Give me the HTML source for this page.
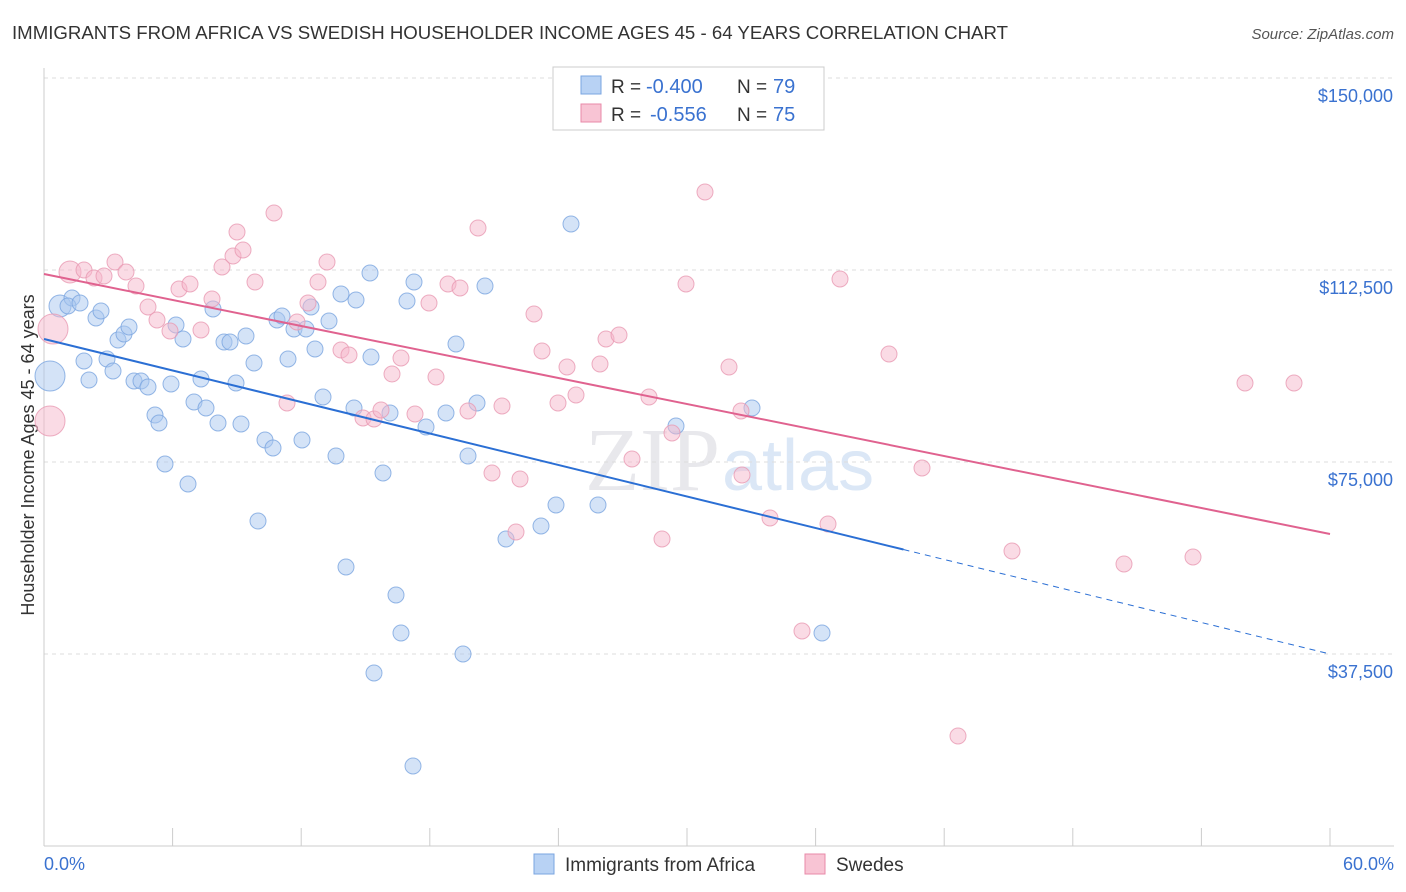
<!DOCTYPE html>
<html><head><meta charset="utf-8"><style>
body{margin:0;background:#fff;font-family:"Liberation Sans",sans-serif}
#c{position:relative;width:1406px;height:892px;overflow:hidden}
</style></head><body>
<div id="c">
<svg id="s" width="1406" height="892" xmlns="http://www.w3.org/2000/svg">
<text x="12" y="39" font-size="18" fill="#333" textLength="996" lengthAdjust="spacingAndGlyphs">IMMIGRANTS FROM AFRICA VS SWEDISH HOUSEHOLDER INCOME AGES 45 - 64 YEARS CORRELATION CHART</text>
<text x="1394" y="39" font-size="15" fill="#555" font-style="italic" text-anchor="end">Source: ZipAtlas.com</text>
<text x="720" y="490" font-size="90" fill="#e8e8ec" font-family="Liberation Serif" text-anchor="end">ZIP</text>
<text x="722" y="490" font-size="72" fill="#dbe7f6">atlas</text>
<text transform="translate(34,455) rotate(-90)" font-size="18" fill="#333" text-anchor="middle">Householder Income Ages 45 - 64 years</text>
<text x="44" y="870" font-size="18" fill="#3a72d0">0.0%</text>
<text x="1394" y="870" font-size="18" fill="#3a72d0" text-anchor="end">60.0%</text>
<g id="grid"></g><g id="pts"></g><g id="lines"></g>
<g>
<rect x="553" y="67" width="271" height="63" fill="#fff" stroke="#ccc"/>
<rect x="581" y="76" width="20" height="18" fill="#b8d2f4" stroke="#7aa5e0"/>
<rect x="581" y="104" width="20" height="18" fill="#f8c4d4" stroke="#e88aa8"/>
<text x="611" y="93" font-size="19" fill="#333">R =</text>
<text x="646" y="93" font-size="20" fill="#3a72d0">-0.400</text>
<text x="737" y="93" font-size="19" fill="#333">N =</text>
<text x="773" y="93" font-size="20" fill="#3a72d0">79</text>
<text x="611" y="121" font-size="19" fill="#333">R =</text>
<text x="650" y="121" font-size="20" fill="#3a72d0">-0.556</text>
<text x="737" y="121" font-size="19" fill="#333">N =</text>
<text x="773" y="121" font-size="20" fill="#3a72d0">75</text>
</g>
<g>
<rect x="534" y="854" width="20" height="20" fill="#b8d2f4" stroke="#7aa5e0"/>
<text x="565" y="871" font-size="19" fill="#333">Immigrants from Africa</text>
<rect x="805" y="854" width="20" height="20" fill="#f8c4d4" stroke="#e88aa8"/>
<text x="836" y="871" font-size="19" fill="#333">Swedes</text>
</g>
</svg></div>
<script>
const yTicks=[37500,75000,112500,150000];
const yTickLabels=["$37,500","$75,000","$112,500","$150,000"];
const bluePx=[[50,376,15],[60,306,11],[72,298],[68,306],[80,303],[84,361],[89,380],[96,318],[101,311],[107,359],[113,371],[118,340],[124,334],[129,327],[134,381],[141,381],[148,387],[155,415],[159,423],[165,464],[171,384],[176,325],[183,339],[188,484],[194,402],[201,379],[206,408],[213,309],[218,423],[224,342],[230,342],[236,383],[241,424],[246,336],[254,363],[258,521],[265,440],[273,448],[277,320],[282,316],[288,359],[294,329],[302,440],[306,329],[311,307],[315,349],[323,397],[329,321],[336,456],[341,294],[346,567],[354,408],[356,300],[370,273],[371,357],[374,673],[383,473],[390,413],[396,595],[401,633],[407,301],[413,766],[414,282],[426,427],[446,413],[456,344],[463,654],[468,456],[477,403],[485,286],[506,539],[541,526],[556,505],[571,224],[598,505],[676,426],[752,408],[822,633]];
const pinkPx=[[53,329,15],[50,421,15],[70,272,11],[84,270],[94,278],[104,276],[115,262],[126,272],[136,286],[148,307],[157,320],[170,331],[179,289],[190,284],[201,330],[212,299],[222,267],[233,256],[237,232],[243,250],[255,282],[274,213],[287,403],[297,322],[308,303],[318,282],[327,262],[341,350],[349,355],[363,418],[374,419],[381,410],[392,374],[401,358],[415,414],[429,303],[436,377],[448,284],[460,288],[468,411],[478,228],[492,473],[502,406],[520,479],[516,532],[534,314],[542,351],[558,403],[567,367],[576,395],[600,364],[606,339],[619,335],[632,459],[649,397],[662,539],[671,99],[672,433],[686,284],[705,192],[729,367],[741,411],[742,475],[770,518],[802,631],[828,524],[840,279],[889,354],[922,468],[958,736],[1012,551],[1124,564],[1193,557],[1245,383],[1294,383]];
const X0=44,X1=1330,YB=846;
const toPct=px=>(px-X0)/(X1-X0)*60, toVal=py=>(YB-py)/192*37500;
const blueX=bluePx.map(p=>toPct(p[0])), blueY=bluePx.map(p=>toVal(p[1])), blueR=bluePx.map(p=>p[2]||8);
const pinkX=pinkPx.map(p=>toPct(p[0])), pinkY=pinkPx.map(p=>toVal(p[1])), pinkR=pinkPx.map(p=>p[2]||8);
const blueLine=[99023,37500], blueSolidEnd=40.1;
const pinkLine=[111719,60938];
const sx=v=>X0+v/60*(X1-X0), sy=v=>YB-v/37500*192;
const NS="http://www.w3.org/2000/svg";
function mk(t,a,parent){const e=document.createElementNS(NS,t);for(const k in a)e.setAttribute(k,a[k]);parent.appendChild(e);return e;}
const grid=document.getElementById('grid');
yTicks.forEach((t,i)=>{
 const l=mk('line',{x1:44,x2:1394,y1:sy(t),y2:sy(t),stroke:'#ddd','stroke-dasharray':'4,4'},grid);
 
 
 const tx=mk('text',{x:1393,y:sy(t)+24,'font-size':18,fill:'#3a72d0','text-anchor':'end'},grid);
 tx.textContent=yTickLabels[i];
 
 
});
const ax=mk('line',{x1:44,x2:44,y1:68,y2:846,stroke:'#ccc'},grid);


const axx=mk('line',{x1:44,x2:1394,y1:846,y2:846,stroke:'#ccc'},grid);


for(let i=0;i<=10;i++){const t=mk('line',{x1:sx(i*6),x2:sx(i*6),y1:828,y2:846,stroke:'#ccc'},grid);
 
 }
const pts=document.getElementById('pts');
function drawPts(X,Y,R,fill,stroke,name){X.forEach((x,i)=>{const c=mk('circle',{cx:sx(x),cy:sy(Y[i]),r:R[i],fill:fill,'fill-opacity':0.5,stroke:stroke,'stroke-opacity':0.8,'stroke-width':1},pts);
 
 });}
drawPts(blueX,blueY,blueR,'#a9c8f0','#7aa5e0','africa-point');
drawPts(pinkX,pinkY,pinkR,'#f6b8cc','#e99ab3','swedes-point');
const lines=document.getElementById('lines');
const bAt=x=>blueLine[0]+(blueLine[1]-blueLine[0])*x/60;
const b1=mk('line',{x1:sx(0),y1:sy(bAt(0)),x2:sx(blueSolidEnd),y2:sy(bAt(blueSolidEnd)),stroke:'#2b6fd4','stroke-width':2},lines);


const b2=mk('line',{x1:sx(blueSolidEnd),y1:sy(bAt(blueSolidEnd)),x2:sx(60),y2:sy(bAt(60)),stroke:'#2b6fd4','stroke-width':1,'stroke-dasharray':'6,5'},lines);


const p1=mk('line',{x1:sx(0),y1:sy(pinkLine[0]),x2:sx(60),y2:sy(pinkLine[1]),stroke:'#e0628f','stroke-width':2},lines);


</script>
</body></html>
